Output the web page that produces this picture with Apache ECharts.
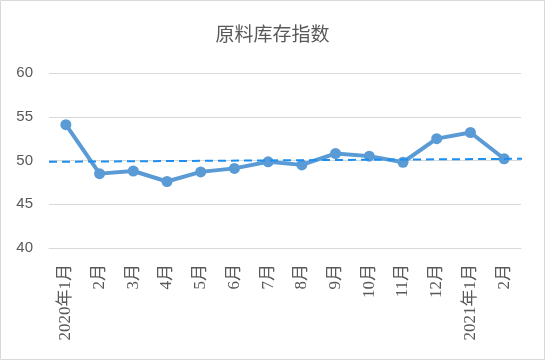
<!DOCTYPE html>
<html><head><meta charset="utf-8">
<script src="https://cdn.jsdelivr.net/npm/echarts@6/dist/echarts.min.js"></script>
<style>html,body{margin:0;padding:0;background:#fff}#c{width:545px;height:360px}</style>
</head><body><div id="c"></div>
<script>
const categories = ['2020年1月','2月','3月','4月','5月','6月','7月','8月','9月','10月','11月','12月','2021年1月','2月'];
const values = [54.1, 48.5, 48.8, 47.6, 48.7, 49.1, 49.85, 49.5, 50.8, 50.5, 49.8, 52.5, 53.2, 50.2];
const trendX = [0, 14.15];
const trendY = [49.85, 50.2];
const yTicks = [40, 45, 50, 55, 60];

const chart = echarts.init(document.getElementById('c'));
chart.setOption({
  animation: false,
  title: {text: '原料库存指数', left: 'center', top: 19,
    textStyle: {fontFamily: 'Noto Sans CJK SC', fontSize: 19, fontWeight: 'normal', color: '#595959'}},
  graphic: [{type: 'rect', shape: {x: 0.5, y: 0.5, width: 544, height: 359},
    style: {fill: 'none', stroke: '#d9d9d9', lineWidth: 1}, silent: true}],
  grid: {left: 49, right: 24, top: 73, bottom: 112},
  xAxis: [{
    type: 'category', data: categories, boundaryGap: true,
    axisLine: {show: true, lineStyle: {color: '#d9d9d9', width: 1}},
    axisTick: {show: false},
    axisLabel: {rotate: 90, color: '#595959', fontSize: 17, margin: 16,
      fontFamily: 'Liberation Serif, Noto Sans CJK SC'}
  }, {
    type: 'value', min: 0, max: 14, show: false
  }],
  yAxis: {
    type: 'value', min: yTicks[0], max: yTicks[yTicks.length - 1], interval: 5,
    axisLine: {show: false}, axisTick: {show: false},
    splitLine: {lineStyle: {color: '#d9d9d9', width: 1}},
    axisLabel: {color: '#595959', fontSize: 15, margin: 16, fontFamily: 'Liberation Sans'}
  },
  series: [{
    type: 'line', data: values, xAxisIndex: 0,
    lineStyle: {color: '#5b9bd5', width: 4},
    itemStyle: {color: '#5b9bd5'},
    symbol: 'circle', symbolSize: 11, z: 3
  }, {
    type: 'line', xAxisIndex: 1, clip: false,
    data: [[trendX[0], trendY[0]], [trendX[1], trendY[1]]],
    showSymbol: false, symbol: 'none',
    lineStyle: {color: '#1c8ff0', width: 2, type: [8, 5]}, z: 4
  }]
});
</script></body></html>
